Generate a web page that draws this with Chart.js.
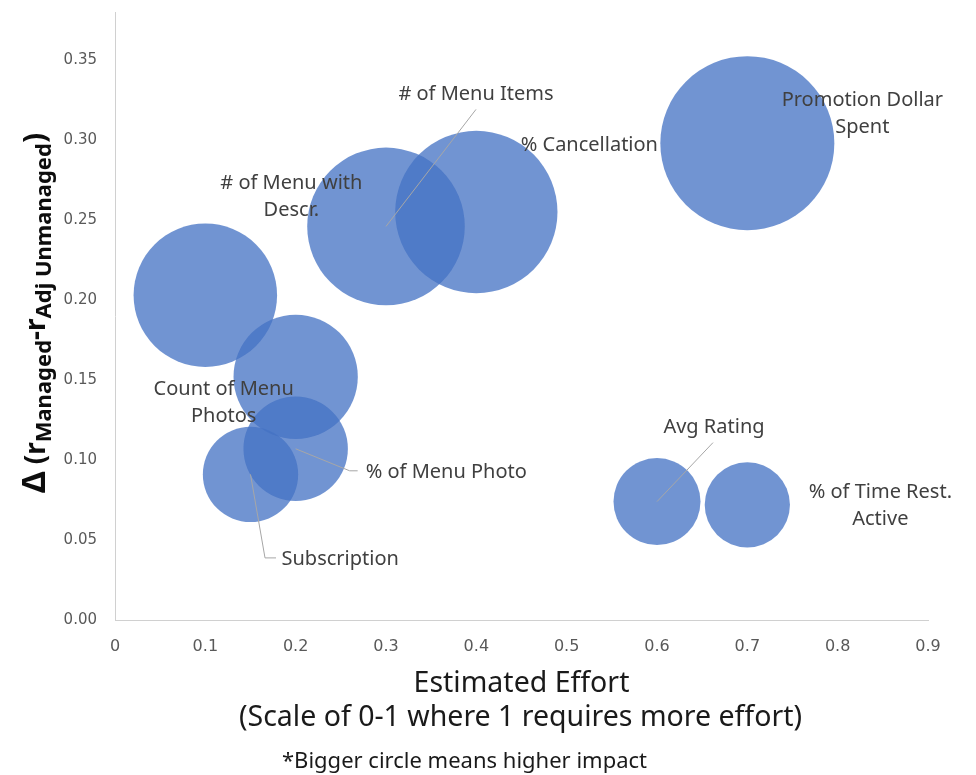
<!DOCTYPE html>
<html>
<head>
<meta charset="utf-8">
<script src="https://cdn.jsdelivr.net/npm/chart.js@4/dist/chart.umd.min.js"></script>
<style>
  html, body { margin: 0; padding: 0; background: #ffffff; }
  #wrap { width: 976px; height: 775px; position: relative; }
</style>
</head>
<body>
<div id="wrap"><canvas id="chart" width="976" height="775"></canvas></div>
<script>
// Factors, effort (x), correlation gain (y) and impact (bubble area)
const factors = [
  "# of Menu with Descr.",
  "Count of Menu Photos",
  "% of Menu Photo",
  "Subscription",
  "# of Menu Items",
  "% Cancellation",
  "Promotion Dollar Spent",
  "Avg Rating",
  "% of Time Rest. Active"
];
const effort = [0.1, 0.2, 0.2, 0.15, 0.3, 0.4, 0.7, 0.6, 0.7];
const deltaR = [0.203, 0.152, 0.107, 0.091, 0.246, 0.255, 0.298, 0.074, 0.072];
const impact = [68, 51, 36, 30, 82, 87, 100, 25, 24];

const xTickValues = [0, 0.1, 0.2, 0.3, 0.4, 0.5, 0.6, 0.7, 0.8, 0.9];
const xTickLabels = ["0", "0.1", "0.2", "0.3", "0.4", "0.5", "0.6", "0.7", "0.8", "0.9"];
const yTickValues = [0, 0.05, 0.1, 0.15, 0.2, 0.25, 0.3, 0.35];
const yTickLabels = ["0.00", "0.05", "0.10", "0.15", "0.20", "0.25", "0.30", "0.35"];

// Label placement (pixel offsets from each bubble centre) and leader lines
const labelLayout = [
  { dx: 86,  dy: -112, align: "center", breakAfter: 4 },
  { dx: -72, dy: 12,   align: "center", breakAfter: 3 },
  { dx: 70,  dy: 23,   align: "left",   leader: [[54, 22], [62, 22]] },
  { dx: 31,  dy: 85,   align: "left",   leader: [[14.5, 83.5], [25.5, 83.5]] },
  { dx: 90,  dy: -132, align: "center", leader: [[90, -117]] },
  { dx: 113, dy: -67,  align: "center" },
  { dx: 115, dy: -43,  align: "center", breakAfter: 2 },
  { dx: 57,  dy: -74,  align: "center", leader: [[56, -59]] },
  { dx: 133, dy: -13,  align: "center", breakAfter: 4 }
];

const MAX_RADIUS = 87;
const maxImpact = Math.max(...impact);
const bubbleRadius = v => MAX_RADIUS * Math.sqrt(v / maxImpact);

const points = effort.map((x, i) => ({ x: x, y: deltaR[i], r: bubbleRadius(impact[i]) }));

// Bubbles stay inside the plot area, so no extra layout padding is reserved for them
Chart.BubbleController.prototype.getMaxOverflow = function () { return false; };

const LABEL_FONT = '20px "Noto Sans", "Open Sans", sans-serif';
const TITLE_FONT_FAMILY = '"Noto Sans", "Open Sans", sans-serif';
const TICK_FONT_FAMILY = '"DejaVu Sans", "Liberation Sans", sans-serif';

const annotationPlugin = {
  id: "bubbleAnnotations",
  afterDatasetsDraw(chart) {
    const ctx = chart.ctx;
    const xs = chart.scales.x, ys = chart.scales.y;
    ctx.save();
    points.forEach((p, i) => {
      const cx = xs.getPixelForValue(p.x);
      const cy = ys.getPixelForValue(p.y);
      const lay = labelLayout[i];
      if (lay.leader) {
        ctx.beginPath();
        ctx.strokeStyle = "#a6a6a6";
        ctx.lineWidth = 1;
        ctx.moveTo(cx, cy);
        lay.leader.forEach(pt => ctx.lineTo(cx + pt[0], cy + pt[1]));
        ctx.stroke();
      }
      const words = factors[i].split(" ");
      const lines = lay.breakAfter
        ? [words.slice(0, lay.breakAfter).join(" "), words.slice(lay.breakAfter).join(" ")]
        : [factors[i]];
      ctx.font = LABEL_FONT;
      ctx.fillStyle = "#404040";
      ctx.textAlign = lay.align;
      ctx.textBaseline = "middle";
      lines.forEach((ln, k) => ctx.fillText(ln, cx + lay.dx, cy + lay.dy + k * 27));
    });
    ctx.restore();
  },
  afterDraw(chart) {
    const ctx = chart.ctx;
    const area = chart.chartArea;
    const midX = (area.left + area.right) / 2;
    ctx.save();
    // x-axis title (two lines) and footnote
    ctx.fillStyle = "#1a1a1a";
    ctx.textAlign = "center";
    ctx.textBaseline = "middle";
    ctx.font = "28.5px " + TITLE_FONT_FAMILY;
    ctx.fillText("Estimated Effort", midX, 684);
    ctx.fillText("(Scale of 0-1 where 1 requires more effort)", midX - 1, 718);
    ctx.font = "22px " + TITLE_FONT_FAMILY;
    ctx.fillText("*Bigger circle means higher impact", 464.5, 762);

    // y-axis title with subscripts, rotated
    const parts = [
      { t: "\u0394", size: 32, shift: 0 },
      { t: " (r", size: 28, shift: 0 },
      { t: "Managed", size: 22, shift: 6 },
      { t: "-r", size: 28, shift: 0 },
      { t: "Adj Unmanaged", size: 22, shift: 6 },
      { t: ")", size: 30, shift: 0 }
    ];
    let total = 0;
    parts.forEach(p => {
      ctx.font = "bold " + p.size + "px " + TITLE_FONT_FAMILY;
      p.w = ctx.measureText(p.t).width;
      total += p.w;
    });
    ctx.translate(45, 313);
    ctx.rotate(-Math.PI / 2);
    ctx.textAlign = "left";
    ctx.textBaseline = "alphabetic";
    ctx.fillStyle = "#0d0d0d";
    let pos = -total / 2;
    parts.forEach(p => {
      ctx.font = "bold " + p.size + "px " + TITLE_FONT_FAMILY;
      ctx.fillText(p.t, pos, p.shift);
      pos += p.w;
    });
    ctx.restore();
  }
};

new Chart(document.getElementById("chart"), {
  type: "bubble",
  data: {
    datasets: [{
      label: "Factors",
      data: points,
      backgroundColor: "rgba(68, 114, 196, 0.76)",
      borderWidth: 0,
      hoverBorderWidth: 0
    }]
  },
  options: {
    responsive: false,
    animation: false,
    devicePixelRatio: 1,
    events: [],
    layout: { padding: { left: 0, top: 12, right: 48, bottom: 0 } },
    plugins: {
      legend: { display: false },
      tooltip: { enabled: false }
    },
    scales: {
      x: {
        type: "linear",
        min: 0,
        max: 0.9,
        afterBuildTicks: s => { s.ticks = xTickValues.map(v => ({ value: v })); },
        afterFit: s => { s.height = 155; s.paddingLeft = 0; s.paddingRight = 0; },
        grid: { display: false, drawTicks: false },
        border: { display: true, color: "#d0d0d0", width: 1 },
        ticks: {
          padding: 17,
          maxRotation: 0,
          autoSkip: false,
          color: "#595959",
          font: { family: TICK_FONT_FAMILY, size: 16 },
          callback: (v, i) => xTickLabels[i]
        }
      },
      y: {
        type: "linear",
        min: 0,
        max: 0.38,
        afterBuildTicks: s => { s.ticks = yTickValues.map(v => ({ value: v })); },
        afterFit: s => { s.width = 115; s.paddingTop = 0; s.paddingBottom = 0; },
        grid: { display: false, drawTicks: false },
        border: { display: true, color: "#d0d0d0", width: 1 },
        ticks: {
          padding: 18,
          autoSkip: false,
          color: "#595959",
          font: { family: TICK_FONT_FAMILY, size: 15 },
          callback: (v, i) => yTickLabels[i]
        }
      }
    }
  },
  plugins: [annotationPlugin]
});
</script>
</body>
</html>
